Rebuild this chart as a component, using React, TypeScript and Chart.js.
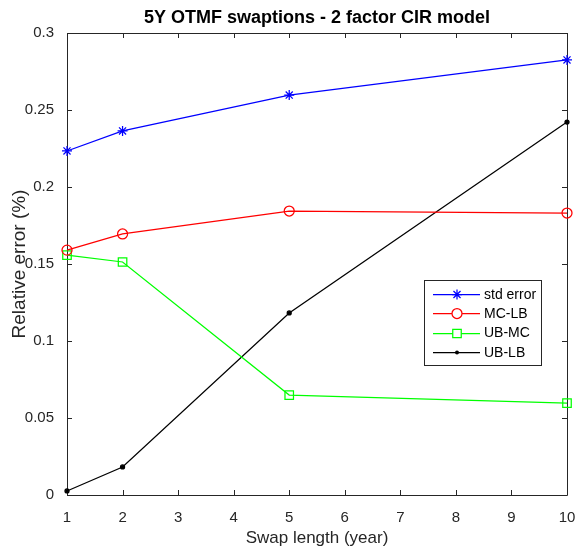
import React, { useEffect, useRef } from "react";
import { Chart, registerables } from "chart.js";

Chart.register(...registerables);

const swapLengths = [1, 2, 5, 10];
const stdError = [0.2234, 0.2364, 0.2597, 0.2825];
const mcLb = [0.159, 0.1695, 0.1844, 0.1831];
const ubMc = [0.1558, 0.1513, 0.0649, 0.0597];
const ubLb = [0.0026, 0.0182, 0.1182, 0.2422];
const xTicks = [1, 2, 3, 4, 5, 6, 7, 8, 9, 10];
const yTicks = [0, 0.05, 0.1, 0.15, 0.2, 0.25, 0.3];

const seriesNames = ["std error", "MC-LB", "UB-MC", "UB-LB"];
const seriesColors = ["#0000ff", "#ff0000", "#00ff00", "#000000"];
const seriesMarkers = ["star", "circle", "rect", "dot"];

const TITLE = "5Y OTMF swaptions - 2 factor CIR model";
const FONT = "'Liberation Sans', Arial, Helvetica, sans-serif";
const AXIS_COLOR = "#262626";
const LINE_W = 1.25;

function drawMarker(ctx: CanvasRenderingContext2D, kind: string, x: number, y: number, color: string) {
  ctx.save();
  ctx.strokeStyle = color;
  ctx.fillStyle = color;
  ctx.lineWidth = LINE_W;
  ctx.beginPath();
  if (kind === "star") {
    const r = 5;
    const d = r * Math.SQRT1_2;
    ctx.moveTo(x - r, y); ctx.lineTo(x + r, y);
    ctx.moveTo(x, y - r); ctx.lineTo(x, y + r);
    ctx.moveTo(x - d, y - d); ctx.lineTo(x + d, y + d);
    ctx.moveTo(x - d, y + d); ctx.lineTo(x + d, y - d);
    ctx.stroke();
  } else if (kind === "circle") {
    ctx.arc(x, y, 5, 0, Math.PI * 2);
    ctx.fillStyle = "#ffffff";
    ctx.fill();
    ctx.stroke();
  } else if (kind === "rect") {
    const s = 6 * Math.SQRT1_2;
    ctx.rect(x - s, y - s, 2 * s, 2 * s);
    ctx.fillStyle = "#ffffff";
    ctx.fill();
    ctx.stroke();
  } else {
    ctx.arc(x, y, 2, 0, Math.PI * 2);
    ctx.fill();
  }
  ctx.restore();
}

const framePlugin = {
  id: "matlabFrame",
  beforeDatasetsDraw(chart: any) {
    const { ctx, chartArea, scales } = chart;
    const { left, right, top, bottom } = chartArea;
    ctx.save();
    ctx.strokeStyle = AXIS_COLOR;
    ctx.lineWidth = 1;
    ctx.beginPath();
    ctx.rect(left + 0.5, top + 0.5, right - left, bottom - top);
    ctx.stroke();
    const tl = 5;
    ctx.beginPath();
    xTicks.forEach((v) => {
      const px = Math.round(scales.x.getPixelForValue(v)) + 0.5;
      ctx.moveTo(px, bottom); ctx.lineTo(px, bottom - tl);
      ctx.moveTo(px, top); ctx.lineTo(px, top + tl);
    });
    yTicks.forEach((v) => {
      const py = Math.round(scales.y.getPixelForValue(v)) + 0.5;
      ctx.moveTo(left, py); ctx.lineTo(left + tl, py);
      ctx.moveTo(right, py); ctx.lineTo(right - tl, py);
    });
    ctx.stroke();
    ctx.restore();
  },
  afterDraw(chart: any) {
    const { ctx, chartArea } = chart;
    ctx.save();
    // title
    ctx.fillStyle = "#000000";
    ctx.font = `bold 18px ${FONT}`;
    ctx.textAlign = "center";
    ctx.textBaseline = "middle";
    ctx.fillText(TITLE, (chartArea.left + chartArea.right) / 2, 18);

    // legend
    const lx = chartArea.right - 143;
    const ly = chartArea.top + 247;
    const lw = 117;
    const lh = 85;
    ctx.fillStyle = "#ffffff";
    ctx.fillRect(lx, ly, lw, lh);
    ctx.strokeStyle = AXIS_COLOR;
    ctx.lineWidth = 1;
    ctx.strokeRect(lx + 0.5, ly + 0.5, lw, lh);
    ctx.font = `14px ${FONT}`;
    ctx.textAlign = "left";
    ctx.textBaseline = "middle";
    seriesNames.forEach((name, i) => {
      const y = ly + 14 + i * 19.3;
      ctx.strokeStyle = seriesColors[i];
      ctx.lineWidth = LINE_W;
      ctx.beginPath();
      ctx.moveTo(lx + 9, Math.round(y) + 0.5);
      ctx.lineTo(lx + 56, Math.round(y) + 0.5);
      ctx.stroke();
      drawMarker(ctx, seriesMarkers[i], lx + 33, Math.round(y) + 0.5, seriesColors[i]);
      ctx.fillStyle = "#000000";
      ctx.fillText(name, lx + 60, y + 1);
    });
    ctx.restore();
  },
};

export default function App() {
  const canvasRef = useRef<HTMLCanvasElement | null>(null);

  useEffect(() => {
    document.body.style.margin = "0";
    const canvas = canvasRef.current;
    if (!canvas) return;
    const values = [stdError, mcLb, ubMc, ubLb];
    const datasets = values.map((arr, i) => {
      const marker = seriesMarkers[i];
      return {
        label: seriesNames[i],
        data: swapLengths.map((x, j) => ({ x, y: arr[j] })),
        showLine: true,
        borderColor: seriesColors[i],
        backgroundColor: marker === "dot" ? seriesColors[i] : "rgba(255,255,255,0)",
        borderWidth: LINE_W,
        pointStyle: marker === "dot" ? "circle" : marker,
        pointRadius: marker === "dot" ? 2 : marker === "rect" ? 6 : 5,
        pointBorderWidth: LINE_W,
        pointBorderColor: seriesColors[i],
        pointBackgroundColor: marker === "dot" ? seriesColors[i] : "rgba(255,255,255,0)",
        clip: false as any,
        tension: 0,
      };
    });

    const chart = new Chart(canvas, {
      type: "scatter",
      data: { datasets },
      options: {
        animation: false,
        responsive: false,
        devicePixelRatio: 1,
        layout: { padding: { top: 33, right: 8, left: 0, bottom: 0 } },
        plugins: { legend: { display: false }, tooltip: { enabled: false }, title: { display: false } },
        scales: {
          x: {
            type: "linear",
            min: 1,
            max: 10,
            grid: { display: false },
            border: { display: false },
            ticks: {
              stepSize: 1,
              color: AXIS_COLOR,
              font: { family: FONT, size: 15 },
              padding: 6,
              maxRotation: 0,
              autoSkip: false,
              callback: (v: any) => String(v),
            },
            title: {
              display: true,
              text: "Swap length (year)",
              color: AXIS_COLOR,
              font: { family: FONT, size: 17 },
              padding: { top: 0, bottom: 5 },
            },
            afterFit: (s: any) => {
              s.height = 59;
              s.paddingLeft = 0;
              s.paddingRight = 0;
            },
          },
          y: {
            type: "linear",
            min: 0,
            max: 0.3,
            grid: { display: false },
            border: { display: false },
            ticks: {
              stepSize: 0.05,
              color: AXIS_COLOR,
              font: { family: FONT, size: 15 },
              padding: 5,
              callback: (v: any) => String(Number(Number(v).toFixed(2))),
            },
            title: {
              display: true,
              text: "Relative error (%)",
              color: AXIS_COLOR,
              font: { family: FONT, size: 19 },
              padding: { top: 8, bottom: 0 },
            },
            afterFit: (s: any) => {
              s.width = 67;
              s.paddingTop = 0;
              s.paddingBottom = 0;
            },
          },
        },
      },
      plugins: [framePlugin],
    });
    return () => chart.destroy();
  }, []);

  return (
    <div style={{ position: "absolute", left: 0, top: 0, width: 575, height: 554, background: "#ffffff" }}>
      <canvas ref={canvasRef} width={575} height={554} style={{ width: 575, height: 554, display: "block" }} />
    </div>
  );
}
